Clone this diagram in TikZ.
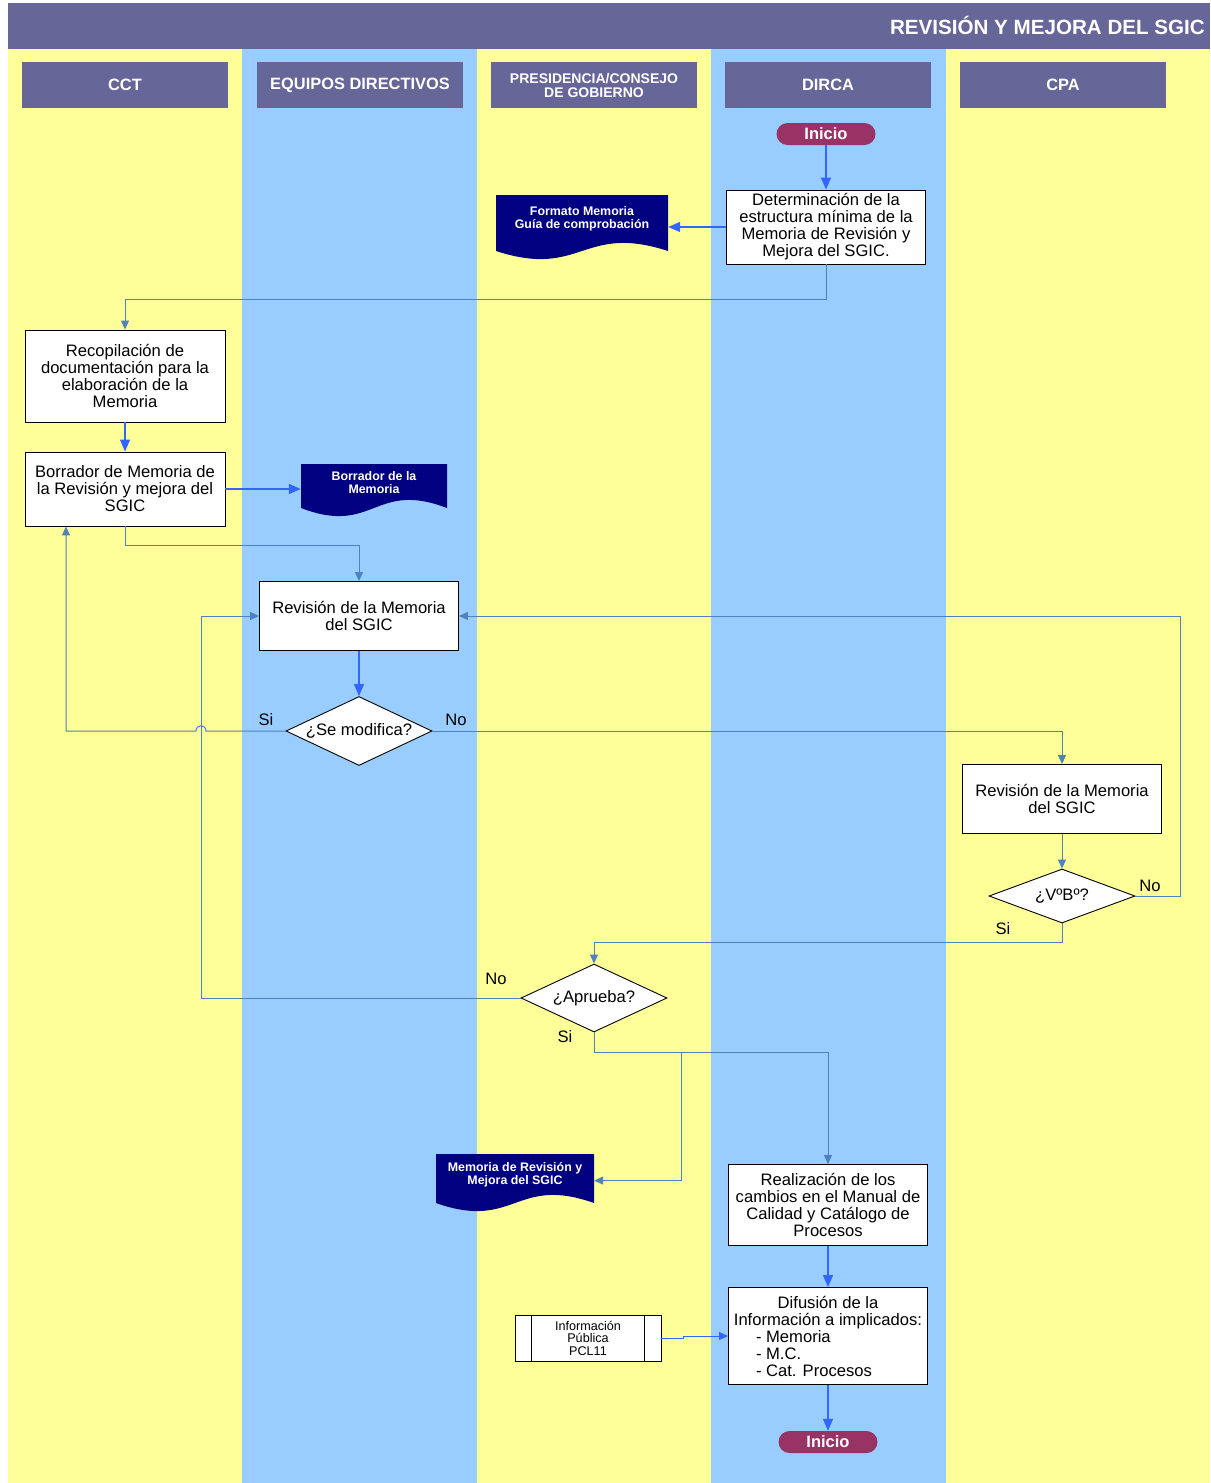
\documentclass[tikz,border=0pt]{standalone}
\usepackage{fontspec}
\setmainfont{Liberation Sans}
\usetikzlibrary{shapes.geometric,arrows.meta,calc}

\definecolor{amarillo}{HTML}{FFFF99}
\definecolor{celeste}{HTML}{99CCFF}
\definecolor{lila}{HTML}{666699}
\definecolor{granate}{HTML}{993366}
\definecolor{marino}{HTML}{000080}
\definecolor{azulflecha}{HTML}{3366FF}
\definecolor{azulconector}{HTML}{4F81BD}

% documento con borde ondulado: nombre, x, y arriba, ancho, alto lateral, texto
\newcommand{\hoja}[6]{%
	\fill[marino] (#2,#3) -- ({#2+#4},#3) -- ({#2+#4},{#3+#5})
	.. controls ({#2+#4/2},{#3+#5-28}) and ({#2+#4/2},{#3+#5+28}) .. (#2,{#3+#5}) -- cycle;
	\node[hojatexto, minimum width=#4] (#1) at ({#2+#4/2},{#3+0.42*#5}) {#6};
}
\newcommand{\guion}[1]{\makebox[144pt][l]{- #1}}

\tikzset{
	titulo/.style={text=white, font=\fontsize{20.6}{20}\selectfont\bfseries, inner sep=0},
	cabecera/.style={fill=lila, text=white, font=\fontsize{16.4}{15}\selectfont\bfseries,
		minimum width=206, minimum height=46, inner sep=0, align=center},
	proceso/.style={draw=black, line width=0.9pt, fill=white, minimum width=199, minimum height=69,
		inner sep=2, align=center, font=\fontsize{16.6}{17}\selectfont},
	decision/.style={diamond, draw=black, line width=0.9pt, fill=white, aspect=2.1, inner sep=1,
		minimum width=146, minimum height=69, font=\fontsize{16.6}{17}\selectfont},
	terminal/.style={fill=granate, text=white, rounded corners=11, minimum width=99, minimum height=22,
		inner sep=0, font=\fontsize{16.5}{16}\selectfont\bfseries},
	hojatexto/.style={text=white, font=\fontsize{12.4}{13}\selectfont\bfseries, align=center, inner sep=0},
	predef/.style={draw=black, line width=0.9pt, fill=white, minimum width=146, minimum height=46,
		inner sep=0, align=center, font=\fontsize{12.6}{12.5}\selectfont},
	etiq/.style={font=\fontsize{16.6}{16}\selectfont, inner sep=0},
	flecha/.style={draw=azulflecha, line width=1.5pt, -{Triangle[length=12pt,width=10pt]}},
	conector/.style={draw=azulconector, line width=1pt, -{Triangle[length=9pt,width=8pt]}}
}

\begin{document}
\begin{tikzpicture}[x=1pt, y=-1pt]
	\useasboundingbox (0,0) rectangle (1210,1483);
	% carriles
	\fill[amarillo] (8,49) rectangle (1210,1483);
	\foreach \x in {242,711}
		\fill[celeste] (\x,49) rectangle ({\x+235},1483);
	\fill[lila] (8,3) rectangle (1210,49);
	\node[titulo, anchor=east] (titulo) at (1205,25) {REVISIÓN Y MEJORA DEL SGIC};
	% cabeceras
	\node[cabecera] (cct) at (125,85) {CCT};
	\node[cabecera] (equipos) at (360,85) {EQUIPOS DIRECTIVOS};
	\node[cabecera, font=\fontsize{14}{14}\selectfont\bfseries] (presidencia) at (594,85) {PRESIDENCIA/CONSEJO\\DE GOBIERNO};
	\node[cabecera] (dirca) at (828,85) {DIRCA};
	\node[cabecera] (cpa) at (1063,85) {CPA};

	% nodos
	\node[terminal] (inicio) at (826,134) {Inicio};
	\node[proceso, minimum height=74] (determinacion) at (826,227) {Determinación de la\\estructura mínima de la\\Memoria de Revisión y\\Mejora del SGIC.};
	\hoja{formato}{496}{195}{172}{56}{Formato Memoria\\Guía de comprobación}
	\node[proceso, minimum width=200, minimum height=92] (recopilacion) at (125,376) {Recopilación de\\documentación para la\\elaboración de la\\Memoria};
	\node[proceso, minimum width=200, minimum height=74] (borrador) at (125,489) {Borrador de Memoria de\\la Revisión y mejora del\\SGIC};
	\hoja{borradordoc}{301}{464}{146}{44}{Borrador de la\\Memoria}
	\node[proceso] (revision) at (359,616) {Revisión de la Memoria\\del SGIC};
	\node[decision] (modifica) at (359,731) {¿Se modifica?};
	\node[proceso] (revisioncpa) at (1062,799) {Revisión de la Memoria\\del SGIC};
	\node[decision, minimum height=54, aspect=2.7] (vb) at (1062,896) {¿VºBº?};
	\node[decision, minimum height=68] (aprueba) at (594,998) {¿Aprueba?};
	\hoja{memoriadoc}{436}{1154}{158}{49}{Memoria de Revisión y\\Mejora del SGIC}
	\node[proceso, minimum height=81] (realizacion) at (828,1205) {Realización de los\\cambios en el Manual de\\Calidad y Catálogo de\\Procesos};
	\node[proceso, minimum height=97] (difusion) at (828,1336) {Difusión de la\\Información a implicados:\\\guion{Memoria}\\\guion{M.C.}\\\guion{Cat. Procesos}};
	\node[predef] (informacion) at (588,1338) {Información\\Pública\\PCL11};
	\draw[line width=0.9pt] ([xshift=17]informacion.north west) -- ([xshift=17]informacion.south west);
	\draw[line width=0.9pt] ([xshift=-17]informacion.north east) -- ([xshift=-17]informacion.south east);
	\node[terminal] (fin) at (828,1442) {Inicio};

	% etiquetas
	\node[etiq] (si1) at (266,720) {Si};
	\node[etiq] (no1) at (456,720) {No};
	\node[etiq] (no2) at (1150,886) {No};
	\node[etiq] (si2) at (1003,929) {Si};
	\node[etiq] (no3) at (496,979) {No};
	\node[etiq] (si3) at (565,1037) {Si};

	% flechas
	\draw[flecha] (inicio) -- (determinacion);
	\draw[flecha] (determinacion.west) -- (determinacion.west -| formato.east);
	\draw[conector] (determinacion.south) -- ++(0,35) -| (recopilacion.north);
	\draw[flecha] (recopilacion) -- (borrador);
	\draw[flecha] (borrador.east) -- (borrador.east -| borradordoc.west);
	\draw[conector] (borrador.south) -- ++(0,19) -| (revision.north);
	\draw[flecha] (revision) -- (modifica);
	\draw[conector] (modifica.west) -- (206,731) .. controls (206,724) and (196,724) .. (196,731)
		-| ([xshift=-59]borrador.south);
	\draw[conector] (modifica.east) -| (revisioncpa.north);
	\draw[conector] (revisioncpa) -- (vb);
	\draw[conector] (vb.east) -- ++(45,0) |- (revision.east);
	\draw[conector] (vb.south) -- ++(0,19) -| (aprueba.north);
	\coordinate (vueltano) at (201,998);
	\draw[conector] (aprueba.west) -- (vueltano) |- (revision.west);
	\coordinate (rama) at (681,1052);
	\draw[conector] (aprueba.south) |- (rama) -| (realizacion.north);
	\draw[conector] (rama) |- ([yshift=-6]memoriadoc.east);
	\draw[flecha] (realizacion) -- (difusion);
	\draw[conector, draw=azulflecha] (informacion.east) -- ++(22,0) |- (difusion.west);
	\draw[flecha] (difusion) -- (fin);
\end{tikzpicture}
\end{document}
